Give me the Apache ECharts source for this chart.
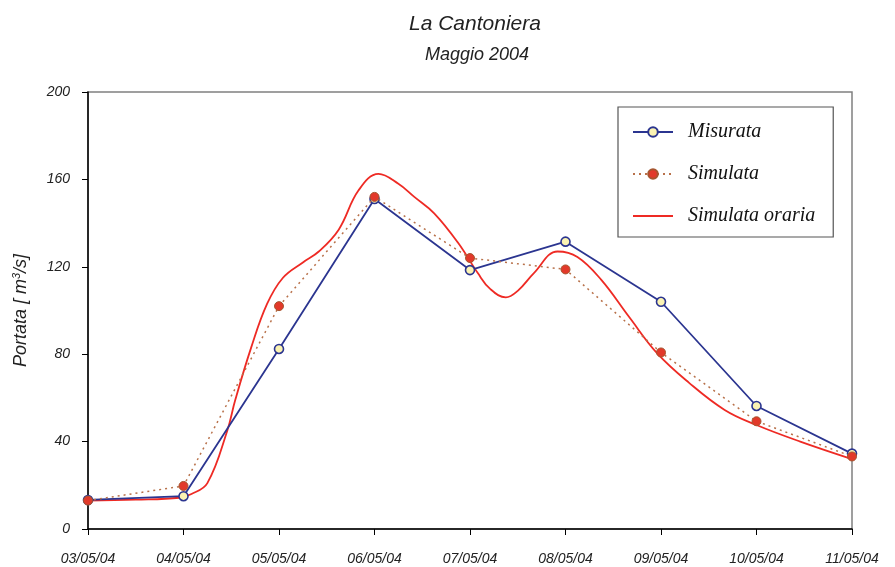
<!DOCTYPE html>
<html>
<head>
<meta charset="utf-8">
<script src="https://cdn.jsdelivr.net/npm/echarts@6/dist/echarts.min.js"></script>
<style>
  html, body { margin: 0; padding: 0; background: #fff; }
  #chart { width: 895px; height: 567px; }
</style>
</head>
<body>
<div id="chart"></div>
<script>
// Daily tick labels (one per 24 h on the x axis)
const tickLabels = ['03/05/04', '04/05/04', '05/05/04', '06/05/04', '07/05/04',
                    '08/05/04', '09/05/04', '10/05/04', '11/05/04'];

// Daily values, m3/s, one per tick label
const misurata = [13.3, 15.0, 82.4, 151.0, 118.5, 131.5, 104.0, 56.3, 34.5];
const simulata = [13.0, 19.7, 102.0, 152.0, 124.0, 118.8, 80.8, 49.3, 33.2];

// Hourly simulation: [hours from 03/05 00:00, m3/s]
const orariaOre = [0, 12, 23, 26, 30, 35, 37, 41, 45, 49, 54, 58, 63, 68, 73, 78, 82, 87, 93,
                   98, 101, 105, 108, 112, 118, 123, 129, 136, 143, 151, 160, 168, 179, 192];
const orariaVal = [13, 13.4, 14.3, 16, 21, 45, 59, 83, 103, 115, 122, 127, 137, 155, 162.5, 158,
                   152, 144.5, 131, 117, 110, 106, 109, 117, 127, 124.5, 114, 97, 80.5, 67, 54.5,
                   47.6, 40, 32];

const giornaliero = arr => arr.map((v, i) => [i * 24, v]);
const orario = orariaOre.map((h, i) => [h, orariaVal[i]]);

const chart = echarts.init(document.getElementById('chart'), null, { renderer: 'canvas' });

const sans = 'Liberation Sans, Arial, sans-serif';
const axisFont = { fontFamily: sans, fontStyle: 'italic', fontSize: 14, color: '#222' };

chart.setOption({
  animation: false,
  backgroundColor: '#ffffff',
  title: [
    {
      text: 'La Cantoniera',
      left: 404, top: 9,
      textStyle: { fontFamily: sans, fontStyle: 'italic', fontWeight: 'normal', fontSize: 21, color: '#222' }
    },
    {
      text: 'Maggio 2004',
      left: 420, top: 41,
      textStyle: { fontFamily: sans, fontStyle: 'italic', fontWeight: 'normal', fontSize: 18, color: '#222' }
    }
  ],
  grid: {
    left: 88, right: 43, top: 92, bottom: 38,
    show: true, borderColor: '#808080', borderWidth: 1.5
  },
  legend: {
    orient: 'vertical',
    left: 618, top: 107,
    itemWidth: 40, itemHeight: 12,
    itemGap: 22,
    padding: [15, 18, 11, 14],
    borderColor: '#555', borderWidth: 1.2,
    backgroundColor: '#fff',
    data: [
      { name: 'Misurata' },
      { name: 'Simulata' },
      { name: 'Simulata oraria', itemStyle: { opacity: 0 } }
    ],
    textStyle: { fontFamily: 'Liberation Serif, Times New Roman, serif', fontStyle: 'italic', fontSize: 20, lineHeight: 20, color: '#111', padding: [0, 0, 0, 10] }
  },
  xAxis: {
    type: 'value',
    min: 0, max: 192, interval: 24,
    splitLine: { show: false },
    axisLine: { lineStyle: { color: '#000', width: 1.5 } },
    axisTick: { show: true, length: 6, lineStyle: { color: '#000' } },
    axisLabel: Object.assign({ margin: 23, formatter: v => tickLabels[Math.round(v / 24)] }, axisFont)
  },
  yAxis: {
    type: 'value',
    min: 0, max: 200, interval: 40,
    name: '{a|Portata [ m}{s|3}{a|/s]}',
    nameLocation: 'middle',
    nameGap: 58,
    nameRotate: 90,
    nameTextStyle: {
      rich: {
        a: { fontFamily: sans, fontStyle: 'italic', fontSize: 18, color: '#222' },
        s: { fontFamily: sans, fontStyle: 'italic', fontSize: 11, color: '#222', verticalAlign: 'top', padding: [0, 0, 8, 0] }
      }
    },
    splitLine: { show: false },
    axisLine: { show: true, lineStyle: { color: '#000', width: 1.5 } },
    axisTick: { show: true, length: 6, lineStyle: { color: '#000' } },
    axisLabel: Object.assign({ margin: 18 }, axisFont)
  },
  series: [
    {
      name: 'Simulata oraria',
      type: 'line',
      data: orario,
      smooth: 0.4,
      showSymbol: false,
      symbol: 'none',
      z: 2,
      lineStyle: { color: '#ee2a24', width: 1.8 },
      itemStyle: { color: '#ee2a24' }
    },
    {
      name: 'Misurata',
      type: 'line',
      data: giornaliero(misurata),
      symbol: 'circle',
      symbolSize: 9,
      z: 3,
      lineStyle: { color: '#2b3590', width: 1.8 },
      itemStyle: { color: '#fbf3b3', borderColor: '#2b3590', borderWidth: 1.6 }
    },
    {
      name: 'Simulata',
      type: 'line',
      data: giornaliero(simulata),
      symbol: 'circle',
      symbolSize: 9,
      z: 4,
      lineStyle: { color: '#b8714a', width: 1.5, type: [2, 4] },
      itemStyle: { color: '#e2392a', borderColor: '#a5552f', borderWidth: 1 }
    }
  ]
});
</script>
</body>
</html>
